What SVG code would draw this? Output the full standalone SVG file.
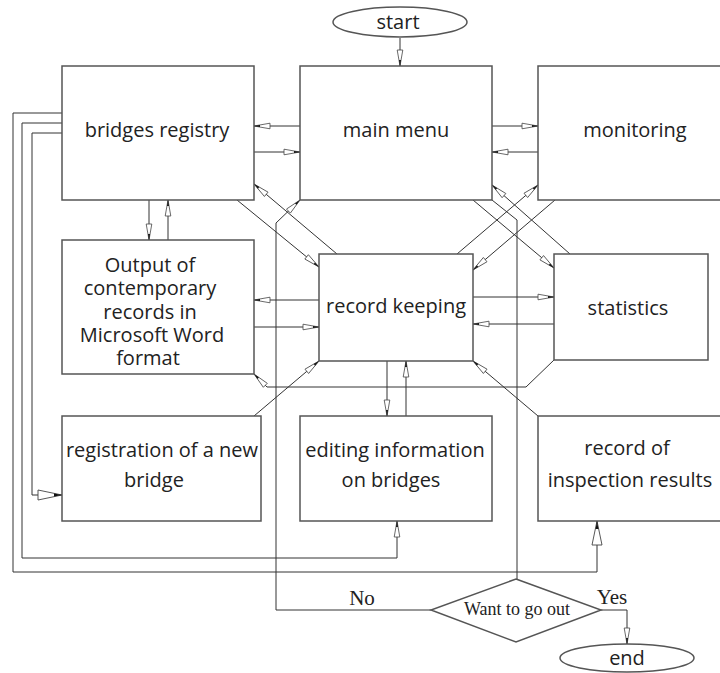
<svg xmlns="http://www.w3.org/2000/svg" width="720" height="673" viewBox="0 0 720 673">
<style>
.box{fill:#fff;stroke:#555;stroke-width:1.5}
.t{font-family:"Open Sans","Noto Sans",sans-serif;font-size:20px;fill:#222;text-anchor:middle}
.s{font-family:"Liberation Serif","Times New Roman",serif;fill:#222;text-anchor:middle}
.c{fill:none;stroke:#333;stroke-width:1}
.a{marker-end:url(#arr)}
.b{marker-end:url(#big)}
</style>
<defs>
<marker id="arr" markerUnits="userSpaceOnUse" markerWidth="18" markerHeight="8" refX="16" refY="4" orient="auto" overflow="visible">
<path d="M0,1.2 L16,4 L0,6.8 Z" fill="#fff" stroke="#444" stroke-width="0.8"/>
<path d="M10,3 L16,4 L10,5 Z" fill="#111"/>
</marker>
<marker id="big" markerUnits="userSpaceOnUse" markerWidth="26" markerHeight="12" refX="24" refY="6" orient="auto" overflow="visible">
<path d="M0,1 L24,6 L0,11 Z" fill="#fff" stroke="#444" stroke-width="0.9"/>
<path d="M16,4.6 L24,6 L16,7.4 Z" fill="#111"/>
</marker>
</defs>

<g id="connectors">
<path class="c a" d="M400,38 V66"/>
<path class="c a" d="M300,126 H254"/>
<path class="c a" d="M254,152 H300"/>
<path class="c a" d="M492,126 H538"/>
<path class="c a" d="M538,152 H492"/>
<path class="c a" d="M149,200 V240"/>
<path class="c a" d="M168,240 V200"/>
<path class="c a" d="M319,300 H254"/>
<path class="c a" d="M254,327 H319"/>
<path class="c a" d="M473,297 H554"/>
<path class="c a" d="M554,324 H473"/>
<path class="c a" d="M387,361 V416"/>
<path class="c a" d="M406,416 V361"/>
<path class="c a" d="M237,200 L319,267"/>
<path class="c a" d="M337,254 L254,184"/>
<path class="c a" d="M473,200 L554,268"/>
<path class="c a" d="M570,254 L492,185"/>
<path class="c a" d="M555,200 L473,270"/>
<path class="c a" d="M457,254 L538,185"/>
<path class="c a" d="M554,360 L526,387 H267 L254,374"/>
<path class="c a" d="M254,416 L319,361"/>
<path class="c a" d="M538,416 L473,361"/>
<path class="c b" d="M62,133 H32 V495 H62"/>
<path class="c a" d="M62,123 H22 V558 H397 V521"/>
<path class="c b" d="M62,113 H13 V572 H597 V521"/>
<path class="c" d="M492,200 L517,220 V579"/>
<path class="c a" d="M431,610 H276 V223 L300,200"/>
<path class="c a" d="M601,610 H627 V644"/>
</g>

<g id="start">
<ellipse class="box" cx="400" cy="22" rx="67" ry="15" stroke-width="1"/>
<text class="t" x="398" y="29">start</text>
</g>
<g id="end">
<ellipse class="box" cx="627" cy="658" rx="67" ry="14" stroke-width="1"/>
<text class="t" x="627" y="665">end</text>
</g>
<g id="bridges-registry">
<rect class="box" x="62" y="66" width="192" height="134"/>
<text class="t" x="157" y="137">bridges registry</text>
</g>
<g id="main-menu">
<rect class="box" x="300" y="66" width="192" height="134"/>
<text class="t" x="396" y="137">main menu</text>
</g>
<g id="monitoring">
<rect class="box" x="538" y="66" width="192" height="134"/>
<text class="t" x="635" y="137">monitoring</text>
</g>
<g id="output">
<rect class="box" x="62" y="240" width="192" height="134"/>
<text class="t" x="150" y="272">Output of</text>
<text class="t" x="150" y="295">contemporary</text>
<text class="t" x="150" y="319">records in</text>
<text class="t" x="152" y="342">Microsoft Word</text>
<text class="t" x="148" y="365">format</text>
</g>
<g id="record-keeping">
<rect class="box" x="319" y="254" width="154" height="107"/>
<text class="t" x="396" y="313">record keeping</text>
</g>
<g id="statistics">
<rect class="box" x="554" y="254" width="154" height="106"/>
<text class="t" x="628" y="315">statistics</text>
</g>
<g id="registration">
<rect class="box" x="62" y="416" width="199" height="105"/>
<text class="t" x="162" y="457">registration of a new</text>
<text class="t" x="154" y="487">bridge</text>
</g>
<g id="editing">
<rect class="box" x="300" y="416" width="192" height="105"/>
<text class="t" x="395" y="457">editing information</text>
<text class="t" x="391" y="487">on bridges</text>
</g>
<g id="inspection">
<rect class="box" x="538" y="416" width="192" height="105"/>
<text class="t" x="627" y="455">record of</text>
<text class="t" x="630" y="487">inspection results</text>
</g>
<g id="decision">
<polygon class="box" points="516,579 601,610 516,642 431,610" stroke-width="1"/>
<text class="s" x="517" y="615" font-size="18">Want to go out</text>
</g>
<g id="labels">
<text class="s" x="362" y="605" font-size="21">No</text>
<text class="s" x="612" y="604" font-size="21">Yes</text>
</g>
</svg>
